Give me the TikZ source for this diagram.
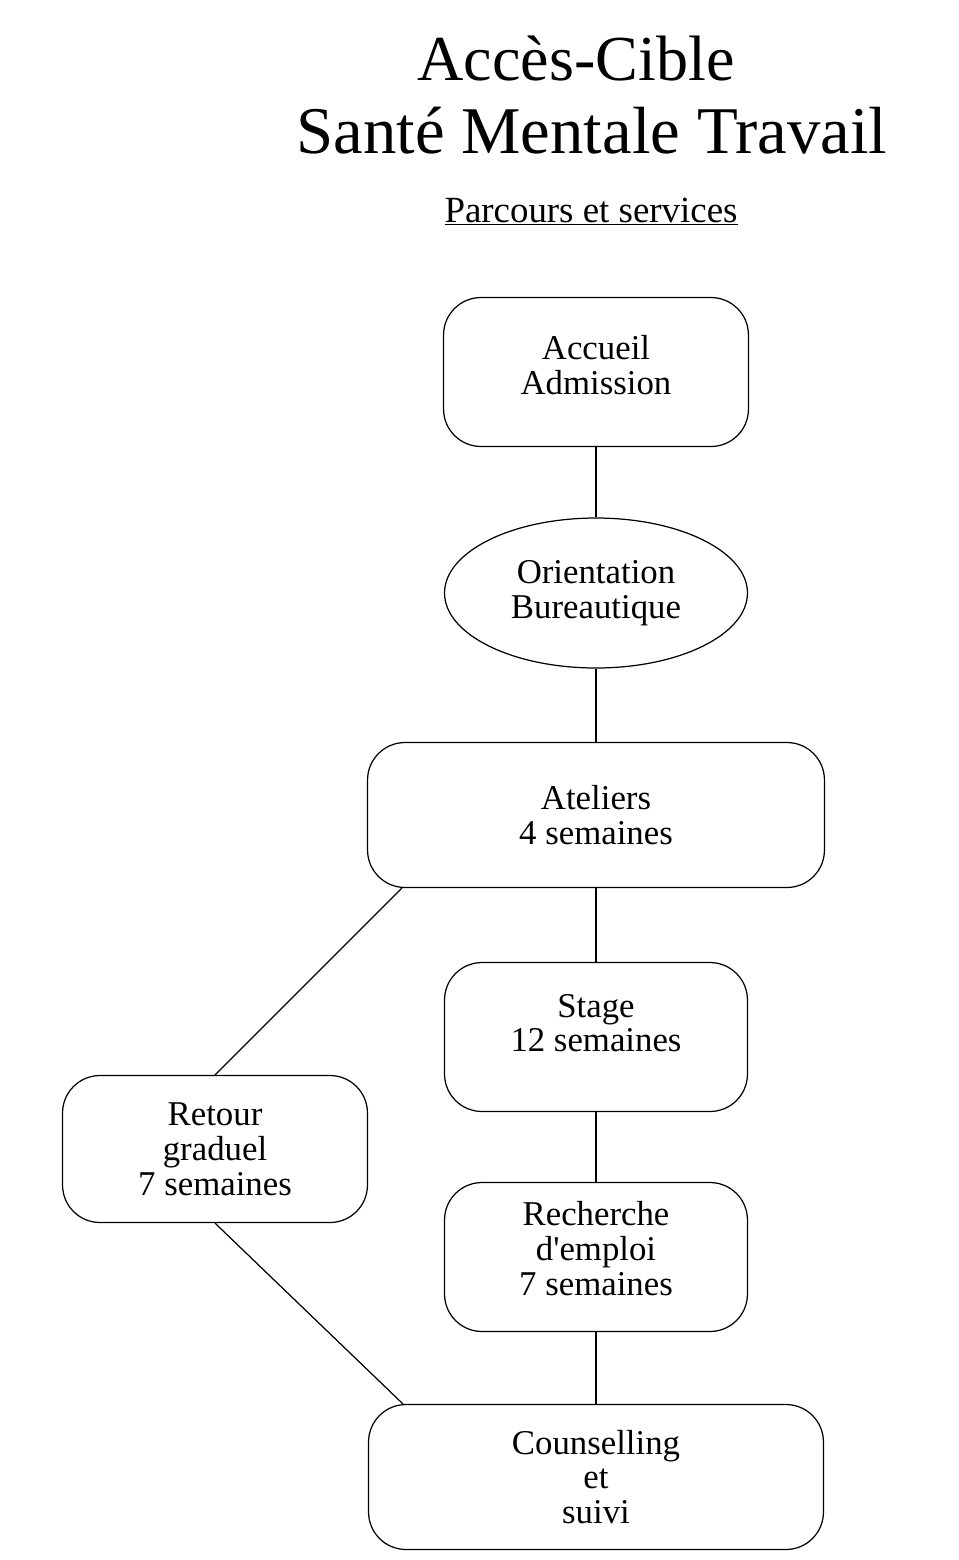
\documentclass[tikz,border=0pt]{standalone}
\usepackage{fontspec}
\setmainfont{Liberation Serif}[Ligatures=TeXOff]
\usetikzlibrary{shapes.geometric}

\begin{document}
\begin{tikzpicture}[x=0.02cm,y=-0.02cm,
  lien/.style={line width=0.7pt},
  etape/.style={draw,line width=0.7pt,rounded corners=0.75cm,align=center,
    inner sep=0pt,font=\fontsize{19.8}{19.8}\selectfont},
  ovale/.style={draw,line width=0.7pt,ellipse,align=center,
    inner sep=0pt,font=\fontsize{19.8}{19.8}\selectfont}]

\useasboundingbox (0,0) rectangle (959,1560);

\node[anchor=base,font=\fontsize{36.5}{36.5}\selectfont] (titre) at (576,80) {Accès-Cible};
\node[anchor=base,font=\fontsize{38}{38}\selectfont] (soustitre) at (592,153) {Santé Mentale Travail};
\node[anchor=base,font=\fontsize{21}{21}\selectfont] (parcours) at (591,222) {\underline{Parcours et services}};

\node[etape,minimum width=6.1cm,minimum height=2.98cm,text depth=8pt] (accueil) at (596,372) {Accueil\\Admission};
\node[ovale,minimum width=6.06cm,minimum height=3cm] (orient) at (596,593) {Orientation\\Bureautique};
\node[etape,minimum width=9.14cm,minimum height=2.9cm] (ateliers) at (596,815) {Ateliers\\4 semaines};
\node[etape,minimum width=6.06cm,minimum height=2.98cm,text depth=16pt] (stage) at (596,1037) {Stage\\12 semaines};
\node[etape,minimum width=6.1cm,minimum height=2.94cm] (retour) at (215,1149) {Retour\\graduel\\7 semaines};
\node[etape,minimum width=6.06cm,minimum height=2.98cm,text depth=10pt] (recherche) at (596,1257) {Recherche\\d'emploi\\7 semaines};
\node[etape,minimum width=9.1cm,minimum height=2.9cm] (counsel) at (596,1477) {Counselling\\et\\suivi};

\foreach \a/\b in {accueil/orient,orient/ateliers,ateliers/stage,stage/recherche,recherche/counsel}
{
\draw[lien] (\a) -- (\b);
}

\draw[lien] ([xshift=0.7cm]ateliers.south west) -- (retour.north);
\draw[lien] (retour.south) -- ([xshift=0.7cm]counsel.north west);
\end{tikzpicture}
\end{document}
